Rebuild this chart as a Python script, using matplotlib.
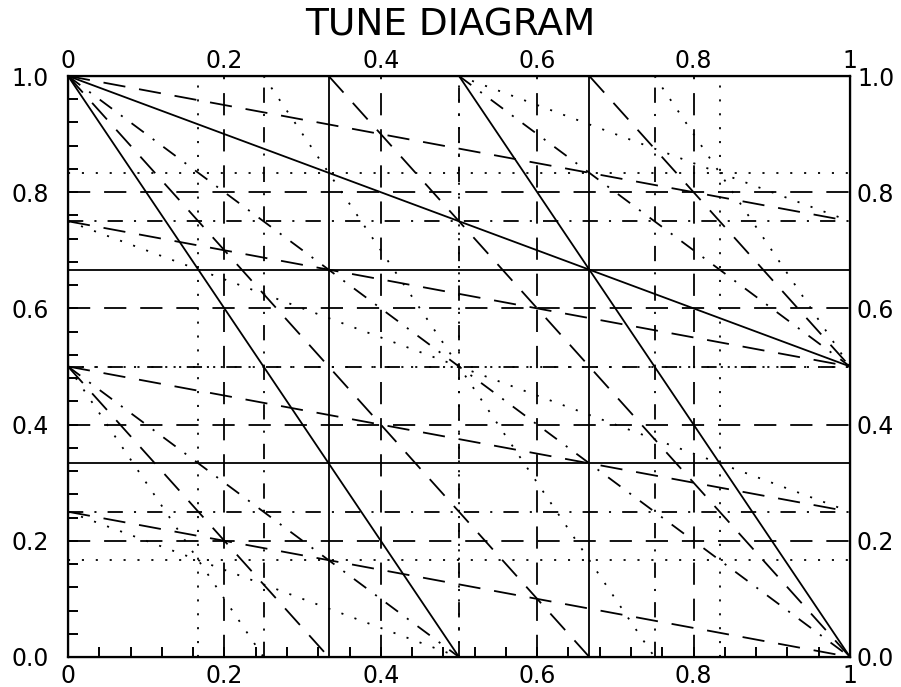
import numpy as np
import matplotlib
matplotlib.use("Agg")
import matplotlib.pyplot as plt
from matplotlib.ticker import MultipleLocator, FixedLocator, FixedFormatter

# resonance lines m*Qx + n*Qy = p, grouped by order
order3 = [(3, 0, 1), (3, 0, 2), (0, 3, 1), (0, 3, 2),
          (2, 1, 1), (2, 1, 2), (1, 2, 2)]
order4 = [(4, 0, 1), (4, 0, 2), (4, 0, 3), (0, 4, 1), (0, 4, 2), (0, 4, 3),
          (2, 2, 1), (2, 2, 2), (2, 2, 3)]
order5 = [(5, 0, 1), (5, 0, 2), (5, 0, 3), (5, 0, 4),
          (0, 5, 1), (0, 5, 2), (0, 5, 3), (0, 5, 4),
          (3, 2, 1), (3, 2, 2), (3, 2, 3), (3, 2, 4),
          (1, 4, 1), (1, 4, 2), (1, 4, 3), (1, 4, 4)]
order6 = [(6, 0, 1), (6, 0, 3), (6, 0, 5), (0, 6, 1), (0, 6, 3), (0, 6, 5),
          (4, 2, 1), (4, 2, 3), (4, 2, 5),
          (2, 4, 1), (2, 4, 3), (2, 4, 5)]

x_ticks = [0, 0.2, 0.4, 0.6, 0.8, 1]
x_labels = ["0", "0.2", "0.4", "0.6", "0.8", "1"]
y_ticks = [0, 0.2, 0.4, 0.6, 0.8, 1.0]
y_labels = ["0.0", "0.2", "0.4", "0.6", "0.8", "1.0"]

plt.rcParams["lines.scale_dashes"] = False
plt.rcParams["font.family"] = "DejaVu Sans"

fig = plt.figure(figsize=(9.01, 6.87), dpi=100)
ax = fig.add_axes([68 / 901, 1 - 657 / 687, 782 / 901, 581 / 687])


def seg(m, n, p):
    # end points of m*x + n*y = p inside the unit square
    if n == 0:
        return [p / m, p / m], [0, 1]
    if m == 0:
        return [0, 1], [p / n, p / n]
    x0 = max(0.0, (p - n) / m)
    x1 = min(1.0, p / m)
    return [x0, x1], [(p - m * x0) / n, (p - m * x1) / n]


styles = [
    (order3, None),
    (order4, (0, (11, 8, 1.5, 8))),
    (order5, (0, (16, 10))),
    (order6, (0, (1.5, 8.5))),
]
for lines, dash in styles:
    for m, n, p in lines:
        xs, ys = seg(m, n, p)
        if dash is None:
            ax.plot(xs, ys, color="black", lw=1.3, solid_capstyle="butt")
        else:
            ax.plot(xs, ys, color="black", lw=1.3, linestyle=dash,
                    dash_capstyle="butt")

ax.set_xlim(0, 1)
ax.set_ylim(0, 1)
for s in ax.spines.values():
    s.set_linewidth(1.6)

ax.xaxis.set_major_locator(FixedLocator(x_ticks))
ax.xaxis.set_major_formatter(FixedFormatter(x_labels))
ax.yaxis.set_major_locator(FixedLocator(y_ticks))
ax.yaxis.set_major_formatter(FixedFormatter(y_labels))
ax.xaxis.set_minor_locator(MultipleLocator(0.04))
ax.yaxis.set_minor_locator(MultipleLocator(0.04))
ax.tick_params(which="both", direction="in", top=True, right=True,
               width=1.4, length=7, labelsize=17)
ax.tick_params(axis="y", pad=14)
ax.tick_params(axis="x", pad=5)

# labels on the right and top edges
axr = ax.twinx()
axr.set_ylim(0, 1)
axr.yaxis.set_major_locator(FixedLocator(y_ticks))
axr.yaxis.set_major_formatter(FixedFormatter(y_labels))
axr.tick_params(length=0, labelsize=17, pad=5)

axt = ax.twiny()
axt.set_xlim(0, 1)
axt.xaxis.set_major_locator(FixedLocator(x_ticks))
axt.xaxis.set_major_formatter(FixedFormatter(x_labels))
axt.tick_params(length=0, labelsize=17, pad=2)

fig.text(450 / 901, 1 - 26 / 687, "TUNE DIAGRAM", ha="center", va="center",
         fontsize=27)

fig.savefig("out.png", dpi=100)
